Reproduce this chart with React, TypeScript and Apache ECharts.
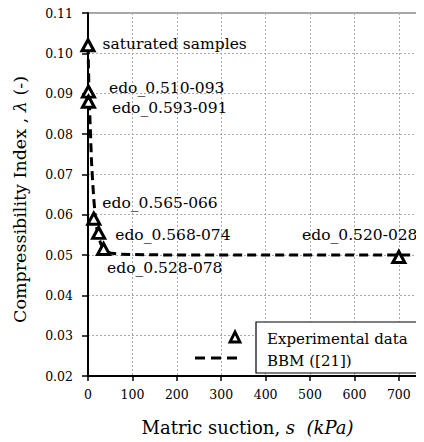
import React, { useEffect, useRef } from "react";
import * as echarts from "echarts";

// Experimental points (matric suction s in kPa, compressibility index lambda)
const sampleNames = [
  "saturated samples",
  "edo_0.510-093",
  "edo_0.593-091",
  "edo_0.565-066",
  "edo_0.568-074",
  "edo_0.528-078",
  "edo_0.520-028",
];
const suction = [0, 1, 1, 13, 24, 35, 700];
const lambda = [0.102, 0.0905, 0.088, 0.059, 0.0555, 0.0515, 0.0495];

// BBM ([21]) curve
const bbmSuction = [0, 1, 2, 4, 6, 8, 10, 13, 16, 20, 25, 30, 40, 50, 70, 100, 200, 400, 730];
const bbmLambda = [
  0.102, 0.097, 0.092, 0.085, 0.079, 0.073, 0.069, 0.064, 0.06, 0.0565, 0.054, 0.0525, 0.051,
  0.0505, 0.0502, 0.0501, 0.05, 0.05, 0.05,
];

// Axis ticks
const xTicks = [0, 100, 200, 300, 400, 500, 600, 700];
const yMin = 0.02;
const yMax = 0.11;
const yStep = 0.01;

// Label placement (styling, not data)
const labelPlacement: { position: string; offset: number[] }[] = [
  { position: "right", offset: [7, -1] },
  { position: "right", offset: [13, -4] },
  { position: "right", offset: [16, 6] },
  { position: "right", offset: [1, -16] },
  { position: "right", offset: [9, 2] },
  { position: "right", offset: [-4, 19] },
  { position: "top", offset: [-39, -7] },
];

const FONT = "DejaVu Serif";

export default function App() {
  const ref = useRef<HTMLDivElement>(null);

  useEffect(() => {
    if (!ref.current) return;
    const chart = echarts.init(ref.current, undefined, { renderer: "svg" });

    const sampleData = suction.map((s, i) => ({
      value: [s, lambda[i]],
      name: sampleNames[i],
      label: {
        show: true,
        position: labelPlacement[i].position,
        distance: 0,
        offset: labelPlacement[i].offset,
        formatter: sampleNames[i],
        fontFamily: FONT,
        fontSize: 15.5,
        color: "#000",
      },
    }));

    const bbmData = bbmSuction.map((s, i) => [s, bbmLambda[i]]);

    chart.setOption({
      animation: false,
      backgroundColor: "#fff",
      textStyle: { fontFamily: FONT, color: "#000" },
      grid: {
        left: 88,
        top: 13,
        width: 340,
        bottom: 66,
        show: true,
        borderColor: "#8a8a8a",
        borderWidth: 1.5,
        backgroundColor: "transparent",
      },
      xAxis: {
        type: "value",
        min: 0,
        max: 750,
        interval: 100,
        name: "{a|Matric suction, }{i|s}{i|  (kPa)}",
        nameLocation: "middle",
        nameGap: 42,
        nameTextStyle: {
          fontFamily: FONT,
          fontSize: 18,
          padding: [0, 14, 0, 0],
          rich: {
            a: { fontFamily: FONT, fontSize: 18, color: "#000" },
            i: { fontFamily: FONT, fontSize: 18, color: "#000", fontStyle: "italic" },
          },
        },
        axisLine: { show: true, onZero: false, lineStyle: { color: "#000", width: 2 } },
        axisTick: { show: true, length: 5, inside: false, lineStyle: { color: "#000", width: 1.5 } },
        axisLabel: {
          margin: 12,
          fontFamily: FONT,
          fontSize: 12.5,
          color: "#000",
          formatter: (v: number) => (xTicks.includes(v) ? String(v) : ""),
        },
        splitLine: { show: true, lineStyle: { color: "#aaaaaa", type: [2, 2], width: 1 } },
      },
      yAxis: {
        type: "value",
        min: yMin,
        max: yMax,
        interval: yStep,
        name: "{a|Compressibility Index , }{i|λ}{a| (-)}",
        nameLocation: "middle",
        nameGap: 59,
        nameTextStyle: {
          fontFamily: FONT,
          fontSize: 17.5,
          padding: [0, 10, 0, 0],
          rich: {
            a: { fontFamily: FONT, fontSize: 17.5, color: "#000" },
            i: { fontFamily: FONT, fontSize: 17.5, color: "#000", fontStyle: "italic" },
          },
        },
        axisLine: { show: true, onZero: false, lineStyle: { color: "#000", width: 2 } },
        axisTick: { show: true, length: 6, inside: false, lineStyle: { color: "#000", width: 1.5 } },
        axisLabel: {
          margin: 15,
          fontFamily: FONT,
          fontSize: 12.5,
          color: "#000",
          formatter: (v: number) => v.toFixed(2),
        },
        splitLine: { show: true, lineStyle: { color: "#aaaaaa", type: [2, 2], width: 1 } },
      },
      series: [
        {
          name: "BBM ([21])",
          type: "line",
          data: bbmData,
          showSymbol: false,
          symbol: "none",
          smooth: false,
          lineStyle: { color: "#000", width: 3, type: [9, 5] },
          z: 2,
          silent: true,
        },
        {
          name: "Experimental data",
          type: "scatter",
          data: sampleData,
          symbol: "triangle",
          symbolSize: [12, 11],
          itemStyle: { color: "#fff", borderColor: "#000", borderWidth: 3, opacity: 1 },
          z: 3,
        },
      ],
      graphic: [
        {
          type: "rect",
          shape: { x: 256, y: 322, width: 200, height: 51 },
          style: { fill: "#fff", stroke: "#000", lineWidth: 1.2 },
          z: 10,
        },
        {
          type: "text",
          x: 267,
          y: 339,
          style: {
            text: "Experimental data",
            fontFamily: FONT,
            fontSize: 15,
            fill: "#000",
            verticalAlign: "middle",
          },
          z: 11,
        },
        {
          type: "text",
          x: 267,
          y: 361,
          style: {
            text: "BBM ([21])",
            fontFamily: FONT,
            fontSize: 15,
            fill: "#000",
            verticalAlign: "middle",
          },
          z: 11,
        },
        {
          type: "polygon",
          shape: { points: [[235, 332], [240, 342], [230, 342]] },
          style: { fill: "#fff", stroke: "#000", lineWidth: 2.8 },
          z: 11,
        },
        {
          type: "line",
          shape: { x1: 195, y1: 358, x2: 237, y2: 358 },
          style: { stroke: "#000", lineWidth: 3, lineDash: [10, 6] },
          z: 11,
        },
      ],
    });

    return () => chart.dispose();
  }, []);

  return <div ref={ref} style={{ width: 424, height: 442, marginLeft: -8, marginTop: -8 }} />;
}
